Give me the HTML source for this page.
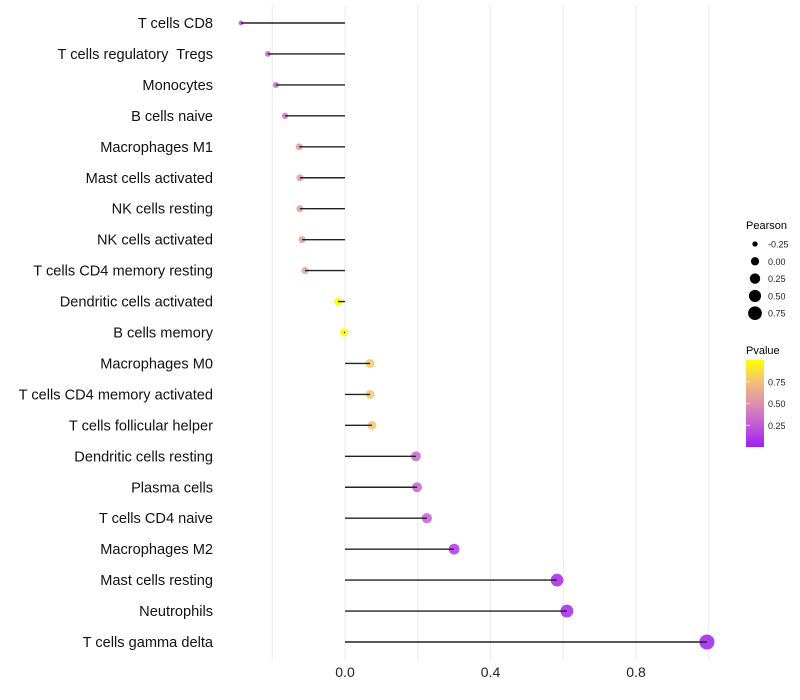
<!DOCTYPE html>
<html><head><meta charset="utf-8"><style>
body{margin:0;background:#fff;font-family:"Liberation Sans",sans-serif}
svg{display:block}
text{white-space:pre}
</style></head><body>
<svg id="chart" width="800" height="700">
<defs><linearGradient id="pg" x1="0" y1="1" x2="0" y2="0">
<stop offset="0" stop-color="#a020f0"/><stop offset="0.25" stop-color="#c25ad6"/><stop offset="0.5" stop-color="#de8fae"/><stop offset="0.75" stop-color="#f2c079"/><stop offset="1" stop-color="#ffff00"/></linearGradient></defs>
<g id="grid"></g><g id="marks"></g><g id="labels"></g>
<g>
<text x="746" y="229" font-size="11">Pearson</text>
<g id="sizeleg"></g></g>
<g>
<text x="746" y="354" font-size="11">Pvalue</text>
<rect x="746" y="360" width="18" height="87" fill="url(#pg)"/>
<g id="colleg"></g></g>
</svg>
<script>
const categories=["T cells CD8","T cells regulatory  Tregs","Monocytes","B cells naive","Macrophages M1","Mast cells activated","NK cells resting","NK cells activated","T cells CD4 memory resting","Dendritic cells activated","B cells memory","Macrophages M0","T cells CD4 memory activated","T cells follicular helper","Dendritic cells resting","Plasma cells","T cells CD4 naive","Macrophages M2","Mast cells resting","Neutrophils","T cells gamma delta"];
const pearson=[-0.286,-0.212,-0.19,-0.165,-0.126,-0.124,-0.124,-0.118,-0.11,-0.019,-0.003,0.069,0.069,0.074,0.195,0.198,0.225,0.30,0.583,0.61,0.995];
const pvalue=[0.2,0.3,0.35,0.38,0.55,0.56,0.56,0.57,0.6,1.0,1.0,0.78,0.78,0.76,0.3,0.3,0.27,0.1,0.03,0.02,0.0];
const xTicks=[0,0.4,0.8];
const xGrid=[-0.2,0,0.2,0.4,0.6,0.8,1.0];
const sizeLegend=[-0.25,0,0.25,0.5,0.75];
const colorLegend=[0.25,0.5,0.75];
const NS="http://www.w3.org/2000/svg";
const X=v=>345+v*363.75, Y=i=>23+i*30.95;
const R=v=>Math.sqrt(Math.max(1,17+40*v));
const stops=[[0,[160,32,240]],[0.25,[194,90,214]],[0.5,[222,143,174]],[0.75,[242,192,121]],[1,[255,255,0]]];
function col(p){for(let k=1;k<stops.length;k++){if(p<=stops[k][0]){const a=stops[k-1],b=stops[k],t=(p-a[0])/(b[0]-a[0]);return "rgb("+a[1].map((c,j)=>Math.round(c+(b[1][j]-c)*t)).join(",")+")";}}return "rgb(255,255,0)";}
function mk(t,a,p){const e=document.createElementNS(NS,t);for(const k in a)e.setAttribute(k,a[k]);p.appendChild(e);return e;}
const grid=document.getElementById('grid'),marks=document.getElementById('marks'),labels=document.getElementById('labels');
xGrid.forEach(v=>{const l=mk('line',{x1:X(v),x2:X(v),y1:5,y2:660,stroke:'#ebebeb','stroke-width':1},grid);

});
xTicks.forEach(v=>{const t=mk('text',{x:X(v),y:677,'font-size':14,'text-anchor':'middle',fill:'#222'},labels);t.textContent=v.toFixed(1);

});
categories.forEach((c,i)=>{const y=Y(i);
const t=mk('text',{x:213,y:y+5,'font-size':14.6,'text-anchor':'end',fill:'#111'},labels);t.textContent=c;


const d=mk('circle',{cx:X(pearson[i]),cy:y,r:R(pearson[i]),fill:col(pvalue[i]),'fill-opacity':0.85},marks);


const s=mk('line',{x1:X(0),x2:X(pearson[i]),y1:y,y2:y,stroke:'#222','stroke-width':1.4},marks);

});
const sl=document.getElementById('sizeleg');
sizeLegend.forEach((v,i)=>{const y=244+i*17.3;
const c=mk('circle',{cx:755,cy:y,r:R(v),fill:'#000'},sl);


const t=mk('text',{x:768,y:y+3.5,'font-size':9,fill:'#222'},sl);t.textContent=v.toFixed(2);

});
const cl=document.getElementById('colleg');
colorLegend.forEach(v=>{const y=447-v*87;
const t=mk('text',{x:768,y:y+3.5,'font-size':9,fill:'#222'},cl);t.textContent=v.toFixed(2);


const l=mk('line',{x1:746,x2:750,y1:y,y2:y,stroke:'#fff','stroke-width':0.8},cl);

});
</script>
</body></html>
